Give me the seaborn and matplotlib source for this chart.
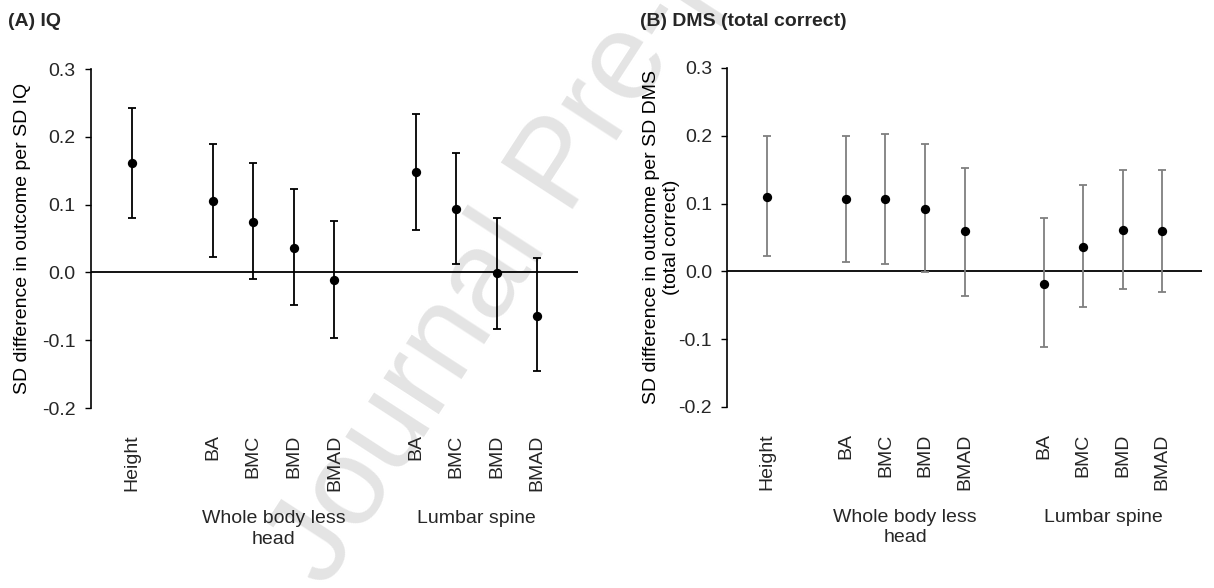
import pandas as pd
import seaborn as sns
import matplotlib.pyplot as plt

measures = ["Height", "BA", "BMC", "BMD", "BMAD", "BA", "BMC", "BMD", "BMAD"]
sites = ["", "Whole body less\nhead", "Whole body less\nhead", "Whole body less\nhead",
         "Whole body less\nhead", "Lumbar spine", "Lumbar spine", "Lumbar spine", "Lumbar spine"]

iq_est = [0.162, 0.106, 0.075, 0.036, -0.011, 0.148, 0.094, -0.001, -0.064]
iq_lo = [0.081, 0.023, -0.010, -0.048, -0.097, 0.063, 0.012, -0.083, -0.146]
iq_hi = [0.243, 0.190, 0.162, 0.123, 0.076, 0.234, 0.176, 0.080, 0.021]

dms_est = [0.110, 0.106, 0.107, 0.092, 0.059, -0.018, 0.036, 0.061, 0.059]
dms_lo = [0.022, 0.013, 0.011, -0.001, -0.036, -0.112, -0.053, -0.026, -0.031]
dms_hi = [0.200, 0.200, 0.203, 0.188, 0.153, 0.078, 0.127, 0.150, 0.150]

yticks = [-0.2, -0.1, 0.0, 0.1, 0.2, 0.3]

sns.set_theme(style="white")
plt.rcParams["font.family"] = ["Liberation Sans", "DejaVu Sans"]
plt.rcParams["axes.facecolor"] = "none"

# x positions: one empty slot between site groups
pos = []
p = 1
for i, s in enumerate(sites):
    if i > 0 and s != sites[i - 1]:
        p += 1
    pos.append(p)
    p += 1


def panel(ax, est, lo, hi, bar_color, ylabel, label_x):
    df = pd.DataFrame({"pos": pos, "est": est, "lo": lo, "hi": hi, "site": sites})
    ax.axhline(0, color="black", lw=1.3, zorder=1)
    ax.errorbar(df["pos"], df["est"], yerr=[df["est"] - df["lo"], df["hi"] - df["est"]],
                fmt="none", ecolor=bar_color, elinewidth=1.3, capsize=3, capthick=1.3, zorder=2)
    sns.scatterplot(data=df, x="pos", y="est", ax=ax, color="black", s=45,
                    linewidth=0, zorder=3, legend=False)
    ax.set_xlim(0, p)
    ax.set_ylim(-0.2, 0.3)
    ax.set_yticks(yticks)
    ax.set_yticklabels([f"{t:.1f}" for t in yticks])
    ax.set_xticks(pos)
    ax.set_xticklabels(measures, rotation=90)
    ax.tick_params(axis="x", length=0, pad=19, labelsize=14)
    ax.tick_params(axis="y", direction="out", length=4, width=1, pad=7,
                   labelsize=14, left=True, color="black")
    sns.despine(ax=ax, top=True, right=True, bottom=True)
    ax.spines["left"].set_color("black")
    ax.spines["left"].set_linewidth(1.2)
    ax.set_xlabel("")
    ax.set_ylabel(ylabel, fontsize=14, color="black")
    ax.yaxis.set_label_coords(label_x, 0.5)
    ax.yaxis.label.set_va("center")
    for s in dict.fromkeys(sites):
        if not s:
            continue
        xs = df.loc[df["site"] == s, "pos"]
        ax.text(xs.mean(), -0.30, s, transform=ax.get_xaxis_transform(),
                ha="center", va="top", fontsize=14, linespacing=1.3)


fig = plt.figure(figsize=(12.14, 5.88), dpi=100)
ax1 = fig.add_axes([0.075, 0.306, 0.401, 0.5765])
ax2 = fig.add_axes([0.599, 0.308, 0.391, 0.5765])

panel(ax1, iq_est, iq_lo, iq_hi, "black", "SD difference in outcome per SD IQ", -0.140)
panel(ax2, dms_est, dms_lo, dms_hi, "#7f7f7f",
      "SD difference in outcome per SD DMS\n(total correct)", -0.138)

fig.text(8 / 1214, 1 - 21 / 588, "(A) IQ", fontsize=14, fontweight="bold", va="center")
fig.text(640 / 1214, 1 - 22 / 588, "(B) DMS (total correct)", fontsize=14,
         fontweight="bold", va="center")

fig.text(325 / 1214, 1 - 590 / 588, "Journal Pre-proof", rotation=57,
         rotation_mode="anchor", ha="left", va="baseline", fontsize=90,
         color="#e4e4e4", zorder=-1)

fig.savefig("out.png", dpi=100, facecolor="white")
